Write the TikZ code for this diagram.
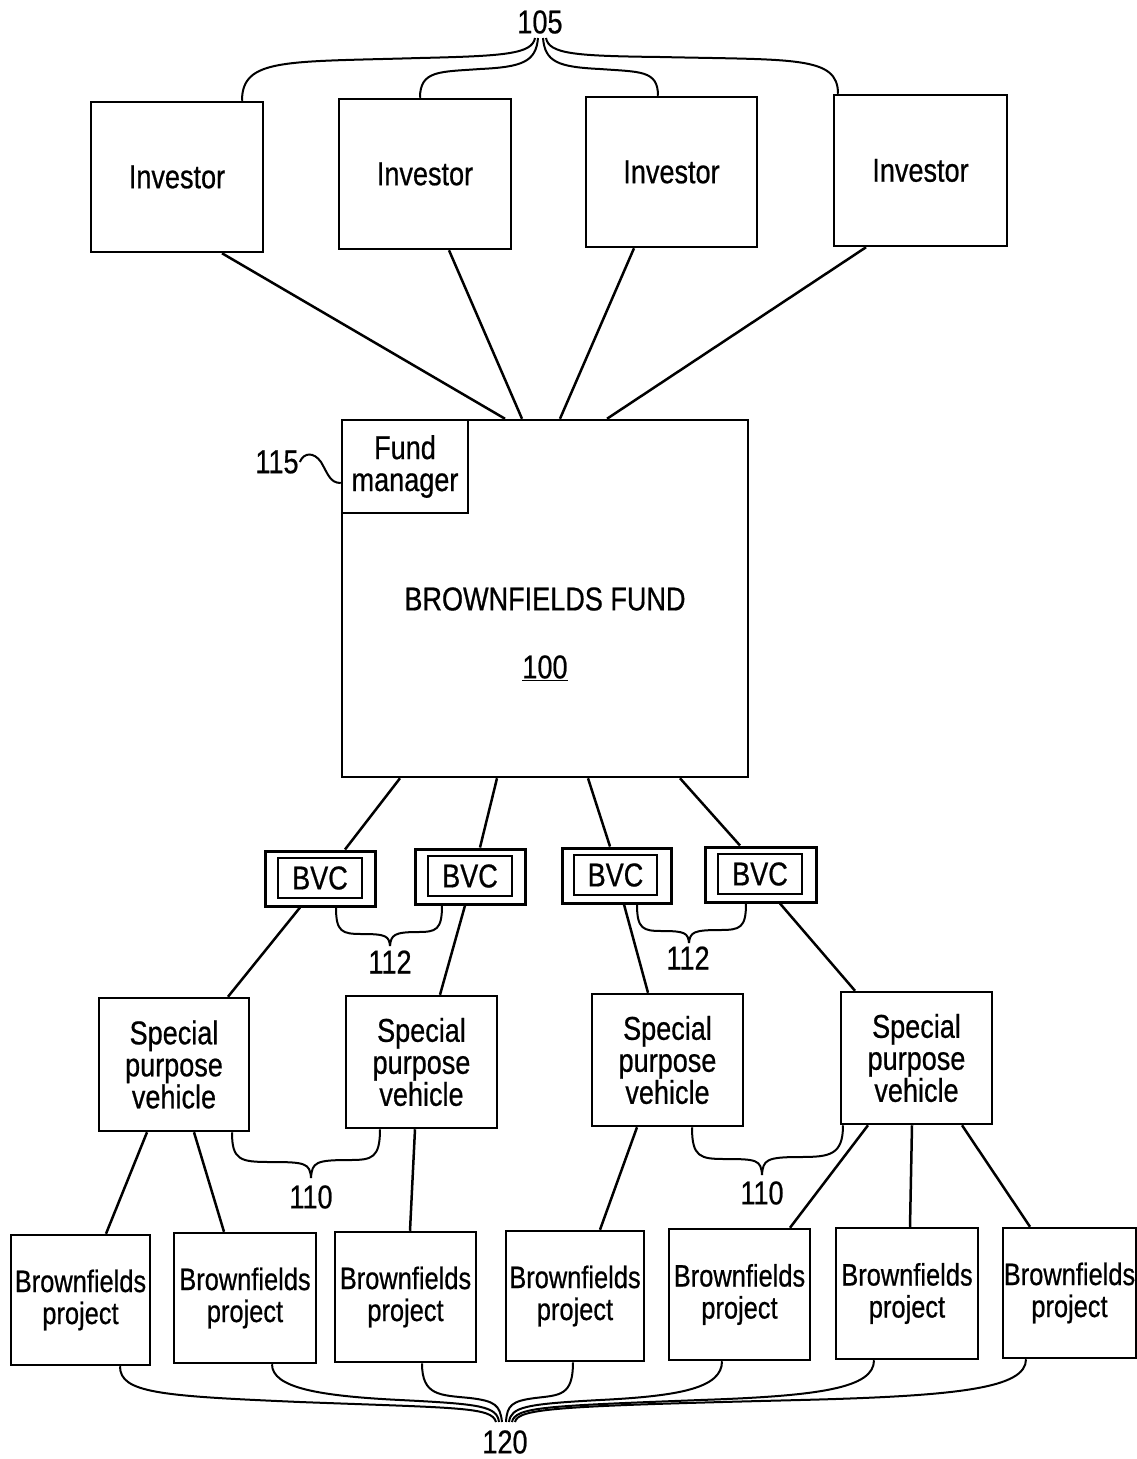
\documentclass[tikz,border=0pt]{standalone}
\usepackage{fontspec}
\setmainfont{Liberation Sans}[FakeStretch=0.82,FakeBold=0.6]
\newcommand\figfont{\fontsize{33}{32}\selectfont}
\newcommand\projfont{\fontsize{31}{32}\selectfont}
\begin{document}
\begin{tikzpicture}[x=1pt,y=-1pt,line width=2.5pt,
  box/.style={draw,line width=2.5pt,inner sep=0pt,align=center,font=\figfont},
  inv/.style={box,minimum width=172pt,minimum height=150pt},
  spv/.style={box,minimum width=151pt,minimum height=132pt},
  proj/.style={box,minimum width=140pt,minimum height=130pt,font=\projfont},
  bvcout/.style={draw,line width=3pt,minimum width=110pt,minimum height=55pt,inner sep=0pt},
  bvcin/.style={draw,line width=2.2pt,minimum width=84pt,minimum height=40pt,inner sep=0pt,font=\figfont},
  lbl/.style={inner sep=0pt,font=\figfont},
  link/.style={line width=2.5pt},
  lead/.style={line width=2pt}]
\useasboundingbox (0,0) rectangle (1137,1459);

% investors
\node[inv] (i1) at (177,177) {Investor};
\node[inv] (i2) at (425,174) {Investor};
\node[inv,minimum width=171pt] (i3) at (671.5,172) {Investor};
\node[inv,minimum width=173pt,minimum height=151pt] (i4) at (920.5,170.5) {Investor};

% fund
\node[box,minimum width=406pt,minimum height=357pt] (fund) at (545,598.5) {};
\node[box,minimum width=126pt,minimum height=93pt] (fm) at (405,466.5) {Fund\\manager};
\node[lbl,align=center] (ftext) at (545,634) {BROWNFIELDS FUND\\[36pt]\underline{100}};

% BVC
\node[bvcout] (b1) at (320.5,878.5) {};
\node[bvcin] (b1i) at (320,878) {BVC};
\node[bvcout] (b2) at (470.5,876.5) {};
\node[bvcin] (b2i) at (470,876) {BVC};
\node[bvcout,minimum width=109pt] (b3) at (616.5,875.5) {};
\node[bvcin,minimum width=83pt] (b3i) at (615.5,875) {BVC};
\node[bvcout,minimum width=111pt] (b4) at (760.5,874.5) {};
\node[bvcin] (b4i) at (760,874) {BVC};

% SPV
\node[spv,minimum width=150pt,minimum height=133pt] (s1) at (174,1064.5) {Special\\purpose\\vehicle};
\node[spv] (s2) at (421.5,1062) {Special\\purpose\\vehicle};
\node[spv] (s3) at (667.5,1060) {Special\\purpose\\vehicle};
\node[spv] (s4) at (916.5,1058) {Special\\purpose\\vehicle};

% projects
\node[proj,minimum width=139pt] (p1) at (80.5,1300) {Brownfields\\project};
\node[proj,minimum width=142pt] (p2) at (245,1298) {Brownfields\\project};
\node[proj,minimum width=141pt] (p3) at (405.5,1297) {Brownfields\\project};
\node[proj,minimum width=138pt] (p4) at (575,1296) {Brownfields\\project};
\node[proj,minimum width=141pt,minimum height=131pt] (p5) at (739.5,1294.5) {Brownfields\\project};
\node[proj,minimum width=142pt,minimum height=131pt] (p6) at (907,1293.5) {Brownfields\\project};
\node[proj,minimum width=133pt] (p7) at (1069.5,1293) {Brownfields\\project};

% investor -> fund
\draw[link] ([xshift=45pt]i1.south) -- ([xshift=-40pt]fund.north);
\draw[link] ([xshift=24pt]i2.south) -- ([xshift=-23pt]fund.north);
\draw[link] ([xshift=-37.5pt]i3.south) -- ([xshift=15pt]fund.north);
\draw[link] ([xshift=-54.5pt]i4.south) -- ([xshift=62pt]fund.north);

% fund -> BVC
\draw[link] ([xshift=-145pt]fund.south) -- ([xshift=24.5pt]b1.north);
\draw[link] ([xshift=-48pt]fund.south) -- ([xshift=9.5pt]b2.north);
\draw[link] ([xshift=43pt]fund.south) -- ([xshift=-6.5pt]b3.north);
\draw[link] ([xshift=135pt]fund.south) -- ([xshift=-20.5pt]b4.north);

% BVC -> SPV
\draw[link] ([xshift=-20.5pt]b1.south) -- ([xshift=54pt]s1.north);
\draw[link] ([xshift=-5.5pt]b2.south) -- ([xshift=18.5pt]s2.north);
\draw[link] ([xshift=7.5pt]b3.south) -- ([xshift=-19.5pt]s3.north);
\draw[link] ([xshift=19.5pt]b4.south) -- ([xshift=-61.5pt]s4.north);

% SPV -> projects
\draw[link] ([xshift=-27pt]s1.south) -- ([xshift=25.5pt]p1.north);
\draw[link] ([xshift=20pt]s1.south) -- ([xshift=-21pt]p2.north);
\draw[link] ([xshift=-6.5pt]s2.south) -- ([xshift=4.5pt]p3.north);
\draw[link] ([xshift=-30.5pt]s3.south) -- ([xshift=25pt]p4.north);
\draw[link] ([xshift=-48.5pt]s4.south) -- ([xshift=50.5pt]p5.north);
\draw[link] ([xshift=-4.5pt]s4.south) -- ([xshift=3pt]p6.north);
\draw[link] ([xshift=45.5pt]s4.south) -- ([xshift=-39.5pt]p7.north);

% label 105
\node[lbl] (l105) at (540,22) {105};
\coordinate (c105a) at (535,38);
\coordinate (c105b) at (538,38);
\coordinate (c105c) at (543,38);
\coordinate (c105d) at (546,38);
\draw[lead] ([xshift=65pt]i1.north) .. controls (242,58) and (285,62) .. (420,58) .. controls (505,56) and (532,54) .. (c105a);
\draw[lead] ([xshift=-5pt]i2.north) .. controls (420,70) and (440,72) .. (480,69) .. controls (522,67) and (536,62) .. (c105b);
\draw[lead] ([xshift=-13.5pt]i3.north) .. controls (658,70) and (640,72) .. (600,69) .. controls (558,67) and (545,62) .. (c105c);
\draw[lead] ([xshift=-82.5pt]i4.north) .. controls (838,56) and (795,60) .. (660,57) .. controls (575,56) and (549,54) .. (c105d);

% label 115
\node[lbl] (l115) at (277,462) {115};
\draw[lead] (l115.east) .. controls (304,452) and (314,452) .. (321,462) .. controls (328,474) and (330,483) .. ([yshift=-16.5pt]fm.west);

% labels 112
\node[lbl] (l112a) at (390,962) {112};
\coordinate (c112a) at (390,946);
\draw[lead] ([xshift=15.5pt]b1.south) .. controls (336,932) and (342,934) .. (362,934) .. controls (386,934) and (389,936) .. (c112a);
\draw[lead] ([xshift=-28.5pt]b2.south) .. controls (442,930) and (436,932) .. (418,932) .. controls (394,932) and (391,935) .. (c112a);
\node[lbl] (l112b) at (688,958) {112};
\coordinate (c112b) at (689,943);
\draw[lead] ([xshift=20.5pt]b3.south) .. controls (637,929) and (643,931) .. (662,931) .. controls (685,931) and (688,933) .. (c112b);
\draw[lead] ([xshift=-14.5pt]b4.south) .. controls (746,928) and (740,930) .. (720,930) .. controls (694,930) and (690,932) .. (c112b);

% labels 110
\node[lbl] (l110a) at (311,1197) {110};
\coordinate (c110a) at (311,1178);
\draw[lead] ([xshift=58pt]s1.south) .. controls (232,1160) and (240,1162) .. (270,1162) .. controls (305,1162) and (310,1163) .. (c110a);
\draw[lead] ([xshift=-41.5pt]s2.south) .. controls (380,1158) and (372,1160) .. (350,1160) .. controls (316,1160) and (312,1162) .. (c110a);
\node[lbl] (l110b) at (762,1193) {110};
\coordinate (c110b) at (762,1175);
\draw[lead] ([xshift=24.5pt]s3.south) .. controls (692,1157) and (700,1159) .. (725,1159) .. controls (757,1159) and (761,1160) .. (c110b);
\draw[lead] ([xshift=-73.5pt]s4.south) .. controls (843,1155) and (830,1157) .. (800,1157) .. controls (766,1157) and (763,1160) .. (c110b);

% label 120
\node[lbl] (l120) at (505,1442) {120};
\coordinate (e1) at (496,1422);
\coordinate (e2) at (499,1422);
\coordinate (e3) at (502,1422);
\coordinate (e4) at (506,1422);
\coordinate (e5) at (509,1422);
\coordinate (e6) at (512,1422);
\coordinate (e7) at (515,1422);
\draw[lead] ([xshift=39.5pt]p1.south) .. controls (120,1393) and (160,1396) .. (300,1402) .. controls (460,1408) and (492,1407) .. (e1);
\draw[lead] ([xshift=27pt]p2.south) .. controls (272,1388) and (320,1396) .. (400,1400) .. controls (480,1404) and (497,1406) .. (e2);
\draw[lead] ([xshift=16.5pt]p3.south) .. controls (422,1396) and (440,1395) .. (470,1398) .. controls (495,1401) and (500,1405) .. (e3);
\draw[lead] ([xshift=-2pt]p4.south) .. controls (573,1396) and (560,1395) .. (535,1398) .. controls (512,1401) and (507,1405) .. (e4);
\draw[lead] ([xshift=-17.5pt]p5.south) .. controls (722,1388) and (680,1396) .. (600,1400) .. controls (525,1404) and (511,1407) .. (e5);
\draw[lead] ([xshift=-33pt]p6.south) .. controls (874,1388) and (820,1396) .. (700,1400) .. controls (545,1406) and (515,1407) .. (e6);
\draw[lead] ([xshift=-43.5pt]p7.south) .. controls (1026,1388) and (960,1396) .. (800,1400) .. controls (560,1406) and (518,1408) .. (e7);
\end{tikzpicture}
\end{document}
